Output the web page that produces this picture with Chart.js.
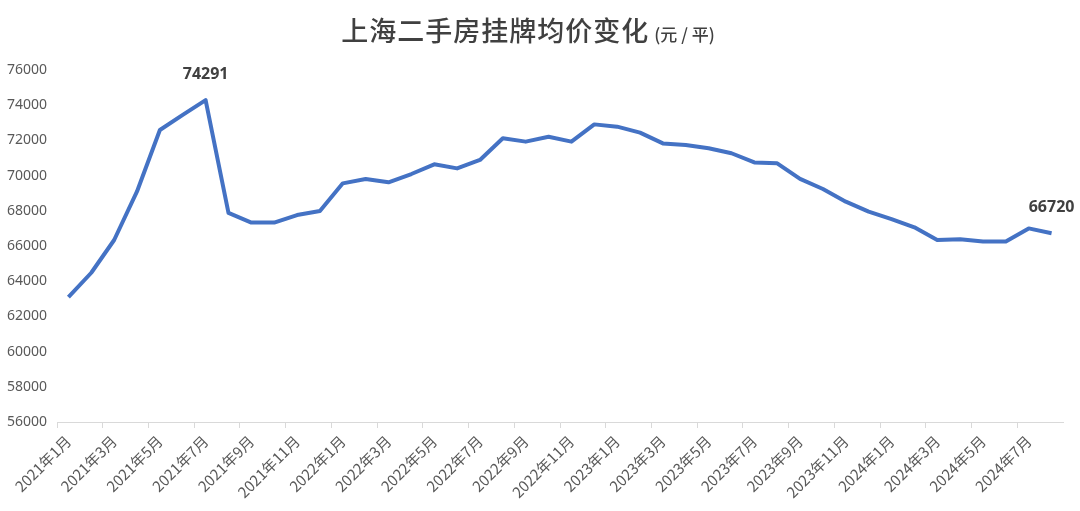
<!DOCTYPE html>
<html>
<head>
<meta charset="utf-8">
<script src="https://cdn.jsdelivr.net/npm/chart.js@4.4.1/dist/chart.umd.min.js"></script>
<style>
  html, body { margin: 0; padding: 0; background: #fff; }
  #wrap { position: relative; width: 1080px; height: 511px; }
  #title {
    position: absolute; left: -12px; top: 10px; width: 1080px;
    text-align: center; color: #404040;
    font-family: "Noto Sans CJK SC", sans-serif;
  }
  #title .main { font-size: 27px; font-weight: 500; letter-spacing: 1px; }
  #title .unit { font-size: 17px; font-weight: 500; margin-left: 5px; }
</style>
</head>
<body>
<div id="wrap">
  <canvas id="priceChart" width="1080" height="511"></canvas>
  <div id="title"><span class="main">上海二手房挂牌均价变化</span><span class="unit">(元 / 平)</span></div>
</div>
<script>
// monthly listing price, 2021-01 .. 2024-08 (yuan / m2)
const MONTHS = [];
for (let y = 2021; y <= 2024; y++) {
  for (let m = 1; m <= 12; m++) {
    if (y === 2024 && m > 8) break;
    MONTHS.push(y + '年' + m + '月');
  }
}

const PRICES = [
  63100, 64480, 66340, 69100, 72590, 73450, 74291, 67880, 67330, 67330, 67760, 67990,
  69560, 69810, 69620, 70090, 70640, 70410, 70890, 72120, 71930, 72210, 71930, 72910,
  72780, 72440, 71830, 71740, 71550, 71270, 70750, 70700, 69810, 69240, 68520, 67950,
  67530, 67060, 66340, 66380, 66250, 66250, 67000, 66720
];

const LABELED = [6, 43]; // points that get a value label
const Y_MIN = 56000, Y_MAX = 76000, Y_STEP = 2000;

const valueLabels = {
  id: 'valueLabels',
  afterDatasetsDraw(chart) {
    const ctx = chart.ctx;
    const meta = chart.getDatasetMeta(0);
    ctx.save();
    ctx.font = 'bold 16px "Noto Sans", sans-serif';
    ctx.fillStyle = '#404040';
    ctx.textAlign = 'center';
    ctx.textBaseline = 'middle';
    LABELED.forEach(i => {
      const pt = meta.data[i];
      ctx.fillText(String(PRICES[i]), pt.x, pt.y - 26);
    });
    ctx.restore();
  }
};

const ctx = document.getElementById('priceChart').getContext('2d');
new Chart(ctx, {
  type: 'line',
  data: {
    labels: MONTHS,
    datasets: [{
      data: PRICES,
      borderColor: '#4472C4',
      borderWidth: 4,
      borderJoinStyle: 'round',
      pointRadius: 0,
      tension: 0,
      fill: false
    }]
  },
  options: {
    responsive: false,
    animation: false,
    layout: { padding: { top: 70, right: 17, bottom: 0, left: 0 } },
    plugins: {
      legend: { display: false },
      tooltip: { enabled: false }
    },
    scales: {
      x: {
        offset: true,
        grid: {
          offset: true,
          drawOnChartArea: false,
          tickLength: 6,
          color: c => c.index % 2 === 0 ? '#d9d9d9' : 'rgba(0,0,0,0)'
        },
        border: { color: '#d9d9d9', width: 1 },
        ticks: {
          autoSkip: false,
          maxRotation: 45,
          minRotation: 45,
          padding: 4,
          color: '#595959',
          font: { family: '"Noto Sans CJK SC", sans-serif', size: 15 },
          callback: (v, i) => i % 2 === 0 ? MONTHS[i] : ''
        },
        afterFit: s => { s.height = 89; }
      },
      y: {
        min: Y_MIN,
        max: Y_MAX,
        grid: { display: false, drawTicks: false },
        border: { display: false },
        ticks: {
          stepSize: Y_STEP,
          padding: 10,
          color: '#595959',
          font: { family: '"Noto Sans", sans-serif', size: 14 },
          callback: v => String(v)
        },
        afterFit: s => { s.width = 57; }
      }
    }
  },
  plugins: [valueLabels]
});
</script>
</body>
</html>
